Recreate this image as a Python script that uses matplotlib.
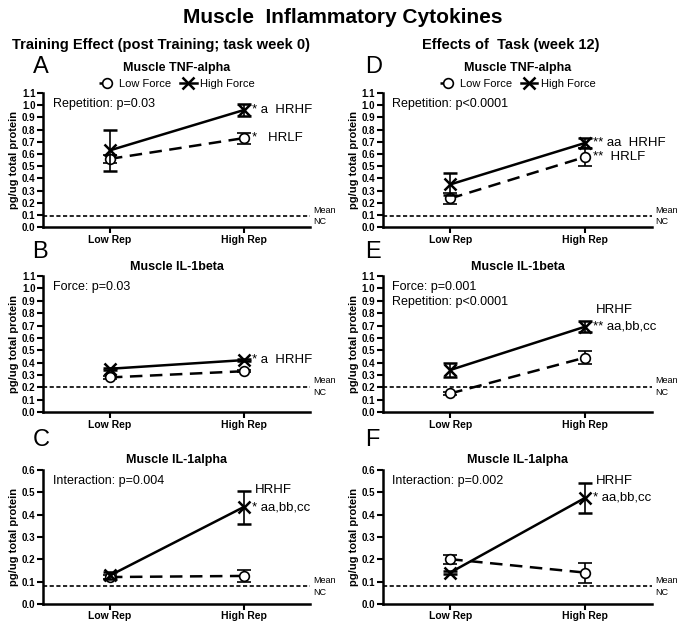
import numpy as np
import matplotlib.pyplot as plt

plt.rcParams['font.family'] = ['Liberation Sans', 'DejaVu Sans']

categories = ['Low Rep', 'High Rep']

# panel data: (low force mean, low force err, high force mean, high force err)
tnf_wk0_lf = [0.56, 0.73]
tnf_wk0_lf_err = [0.03, 0.045]
tnf_wk0_hf = [0.63, 0.96]
tnf_wk0_hf_err = [0.17, 0.05]

il1b_wk0_lf = [0.28, 0.33]
il1b_wk0_lf_err = [0.01, 0.01]
il1b_wk0_hf = [0.35, 0.42]
il1b_wk0_hf_err = [0.01, 0.01]

il1a_wk0_lf = [0.12, 0.125]
il1a_wk0_lf_err = [0.01, 0.027]
il1a_wk0_hf = [0.127, 0.433]
il1a_wk0_hf_err = [0.015, 0.074]

tnf_wk12_lf = [0.235, 0.575]
tnf_wk12_lf_err = [0.045, 0.075]
tnf_wk12_hf = [0.35, 0.69]
tnf_wk12_hf_err = [0.09, 0.04]

il1b_wk12_lf = [0.15, 0.44]
il1b_wk12_lf_err = [0.01, 0.05]
il1b_wk12_hf = [0.34, 0.69]
il1b_wk12_hf_err = [0.055, 0.045]

il1a_wk12_lf = [0.20, 0.14]
il1a_wk12_lf_err = [0.02, 0.045]
il1a_wk12_hf = [0.14, 0.474]
il1a_wk12_hf_err = [0.005, 0.066]

mean_nc_tnf = 0.092
mean_nc_il1b = 0.205
mean_nc_il1a = 0.078

panels = [
    # letter, title, lf, lf_err, hf, hf_err, nc, ymax, stats text, annotations
    ('A', 'Muscle TNF-alpha', tnf_wk0_lf, tnf_wk0_lf_err, tnf_wk0_hf, tnf_wk0_hf_err,
     mean_nc_tnf, 1.1, 'Repetition: p=0.03',
     [('hf', '* a  HRHF', 0), ('lf', '*   HRLF', 0)]),
    ('B', 'Muscle IL-1beta', il1b_wk0_lf, il1b_wk0_lf_err, il1b_wk0_hf, il1b_wk0_hf_err,
     mean_nc_il1b, 1.1, 'Force: p=0.03',
     [('hf', '* a  HRHF', 0)]),
    ('C', 'Muscle IL-1alpha', il1a_wk0_lf, il1a_wk0_lf_err, il1a_wk0_hf, il1a_wk0_hf_err,
     mean_nc_il1a, 0.6, 'Interaction: p=0.004',
     [('hf', '* aa,bb,cc', 0), ('hf', 'HRHF', 1)]),
    ('D', 'Muscle TNF-alpha', tnf_wk12_lf, tnf_wk12_lf_err, tnf_wk12_hf, tnf_wk12_hf_err,
     mean_nc_tnf, 1.1, 'Repetition: p<0.0001',
     [('hf', '** aa  HRHF', 0), ('lf', '**  HRLF', 0)]),
    ('E', 'Muscle IL-1beta', il1b_wk12_lf, il1b_wk12_lf_err, il1b_wk12_hf, il1b_wk12_hf_err,
     mean_nc_il1b, 1.1, 'Force: p=0.001\nRepetition: p<0.0001',
     [('hf', '** aa,bb,cc', 0), ('hf', 'HRHF', 1)]),
    ('F', 'Muscle IL-1alpha', il1a_wk12_lf, il1a_wk12_lf_err, il1a_wk12_hf, il1a_wk12_hf_err,
     mean_nc_il1a, 0.6, 'Interaction: p=0.002',
     [('hf', '* aa,bb,cc', 0), ('hf', 'HRHF', 1)]),
]

fig = plt.figure(figsize=(6.85, 6.29), dpi=100)

col_x = [0.063, 0.559]
col_w = [0.39, 0.393]
row_y = [0.639, 0.345, 0.040]
row_h = [0.213, 0.216, 0.213]
title_y = [1.19, 1.065, 1.075]
letter_y = [1.11, 1.10, 1.14]
letter_x = [-0.04, -0.065]

x = np.arange(len(categories))

for i, (letter, title, lf, lf_err, hf, hf_err, nc, ymax, stats, notes) in enumerate(panels):
    col, row = i // 3, i % 3
    ax = fig.add_axes([col_x[col], row_y[row], col_w[col], row_h[row]])

    ax.axhline(nc, color='black', linestyle=(0, (2.5, 1.5)), linewidth=1.2, zorder=1)
    c_lf = ax.errorbar(x, lf, yerr=lf_err, color='black', linestyle=(0, (5, 3)), linewidth=1.8,
                       marker='o', markersize=7, markerfacecolor='white', markeredgewidth=1.2,
                       capsize=5, elinewidth=1.2, capthick=1.2, zorder=3)
    c_hf = ax.errorbar(x, hf, yerr=hf_err, color='black', linestyle='-', linewidth=1.8,
                       marker='x', markersize=9, markeredgewidth=1.8,
                       capsize=5, elinewidth=1.2, capthick=1.2, zorder=4)

    ax.set_xlim(-0.5, 1.5)
    ax.set_ylim(0, ymax)
    if ymax > 1:
        ax.set_yticks(np.round(np.arange(0, 1.11, 0.1), 1))
    else:
        ax.set_yticks(np.round(np.arange(0, 0.61, 0.1), 1))
    ax.yaxis.set_major_formatter(plt.FormatStrFormatter('%.1f'))
    ax.set_xticks(x)
    ax.set_xticklabels(categories, fontsize=7.5, fontweight='bold')
    for lab in ax.get_yticklabels():
        lab.set_fontweight('bold')
        lab.set_fontsize(7)
    for s in ['top', 'right']:
        ax.spines[s].set_visible(False)
    for s in ['left', 'bottom']:
        ax.spines[s].set_linewidth(1.8)
    ax.tick_params(direction='out', width=1.5, length=4, pad=1.5)
    ax.set_ylabel('pg/ug total protein', fontsize=8, fontweight='bold', labelpad=2)

    ax.text(0.5, title_y[row], title, transform=ax.transAxes, fontsize=9,
            fontweight='bold', ha='center', va='center')
    ax.text(letter_x[col], letter_y[row], letter, transform=ax.transAxes, fontsize=17,
            ha='left', va='bottom')
    ax.text(0.035, 0.965, stats, transform=ax.transAxes, fontsize=9, va='top',
            linespacing=1.3)

    ax.text(1.01, nc + 0.01 * ymax, 'Mean', transform=ax.get_yaxis_transform(),
            fontsize=6.5, va='bottom', ha='left')
    ax.text(1.01, nc - 0.01 * ymax, 'NC', transform=ax.get_yaxis_transform(),
            fontsize=6.5, va='top', ha='left')

    for which, txt, line in notes:
        yv = hf[1] if which == 'hf' else lf[1]
        if line == 0:
            ax.annotate(txt, (x[1], yv), xytext=(6, 0), textcoords='offset points',
                        fontsize=9.5, va='center', ha='left')
        else:
            ax.annotate(txt, (x[1], yv), xytext=(8, 12), textcoords='offset points',
                        fontsize=9.5, va='center', ha='left')

    if row == 0:
        ax.legend([c_lf[0], c_hf[0]], ['Low Force', 'High Force'], loc='center',
                  bbox_to_anchor=(0.5, 1.065), ncol=2, frameon=False,
                  fontsize=8, handlelength=1.5, columnspacing=0.8, handletextpad=0.3,
                  borderaxespad=0.0, borderpad=0.0)

fig.text(0.5, 0.972, 'Muscle  Inflammatory Cytokines', ha='center', va='center',
         fontsize=15, fontweight='bold')
fig.text(0.235, 0.928, 'Training Effect (post Training; task week 0)', ha='center',
         va='center', fontsize=10.5, fontweight='bold')
fig.text(0.745, 0.928, 'Effects of  Task (week 12)', ha='center', va='center',
         fontsize=10.5, fontweight='bold')

plt.savefig('out.png', dpi=100)
